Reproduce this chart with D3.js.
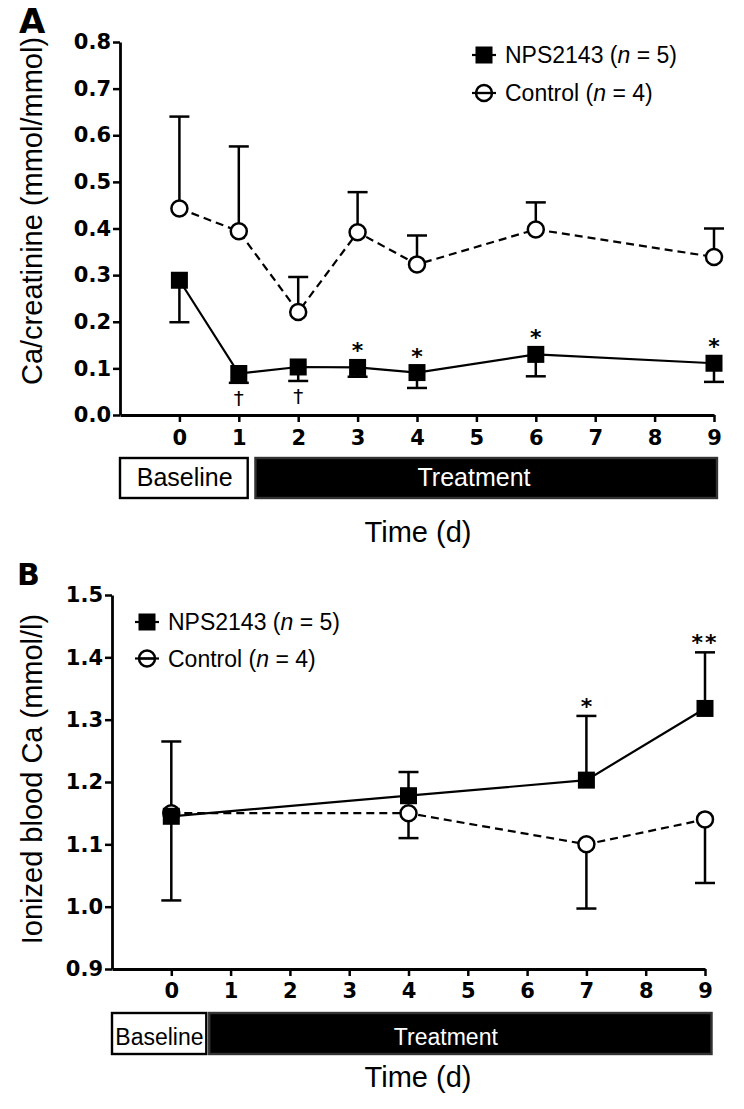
<!DOCTYPE html>
<html>
<head>
<meta charset="utf-8">
<script src="https://cdn.jsdelivr.net/npm/d3@7"></script>
<style>
  body { margin: 0; background: #fff; }
  svg { display: block; }
  .tick text { font-family: "DejaVu Sans", Verdana, sans-serif; font-weight: bold; }
  .txt { font-family: "Liberation Sans", Arial, Helvetica, sans-serif; }
</style>
</head>
<body>
<script>
// series
const seriesNames = ['NPS2143', 'Control'];
const seriesN = [5, 4];

// panel A: urinary Ca/creatinine
const ratioDays = [0, 1, 2, 3, 4, 6, 9];
const npsRatio = [0.289, 0.089, 0.103, 0.102, 0.091, 0.130, 0.111];
const npsRatioErr = [0.090, 0.020, 0.030, 0.020, 0.033, 0.047, 0.040];
const ctrlRatio = [0.443, 0.394, 0.221, 0.392, 0.323, 0.398, 0.339];
const ctrlRatioErr = [0.197, 0.182, 0.075, 0.086, 0.062, 0.058, 0.061];
const ratioMarks = ['', '†', '†', '*', '*', '*', '*'];
const ratioTicks = [0, 0.1, 0.2, 0.3, 0.4, 0.5, 0.6, 0.7, 0.8];

// panel B: ionized blood Ca
const bloodDays = [0, 4, 7, 9];
const npsBlood = [1.145, 1.178, 1.203, 1.318];
const npsBloodErr = [0.120, 0.038, 0.103, 0.090];
const ctrlBlood = [1.150, 1.150, 1.100, 1.140];
const ctrlBloodErr = [0.140, 0.040, 0.103, 0.102];
const bloodMarks = ['', '', '*', '**'];
const bloodTicks = [0.9, 1.0, 1.1, 1.2, 1.3, 1.4, 1.5];

const dayTicks = [0, 1, 2, 3, 4, 5, 6, 7, 8, 9];
const phases = ['Baseline', 'Treatment'];

const svg = d3.select('body').append('svg')
  .attr('width', 744).attr('height', 1109);

function drawPanel(p) {
  const x = d3.scaleLinear().domain([-1, 9]).range(p.xRange);
  const y = d3.scaleLinear().domain(p.yDomain).range(p.yRange);
  const g = svg.append('g');

  // panel letter
  g.append('text')
    .attr('x', p.letterPos[0]).attr('y', p.letterPos[1])
    .style('font-family', '"DejaVu Sans", Arial, sans-serif')
    .style('font-weight', 'bold')
    .style('font-size', p.letterSize + 'px')
    .text(p.letter);

  // axes
  const yAxis = g.append('g')
    .attr('transform', `translate(${p.xRange[0]},0)`)
    .call(d3.axisLeft(y).tickValues(p.yTicks).tickSize(7).tickSizeOuter(0)
      .tickPadding(2).tickFormat(d3.format('.1f')));
  const xAxis = g.append('g')
    .attr('transform', `translate(0,${p.yRange[0]})`)
    .call(d3.axisBottom(x).tickValues(dayTicks).tickSize(7).tickSizeOuter(0)
      .tickPadding(p.xPad));
  [yAxis, xAxis].forEach(a => {
    a.attr('font-size', null);
    a.select('.domain').attr('stroke', '#000').attr('stroke-width', 2.8);
    a.selectAll('.tick line').attr('stroke', '#000').attr('stroke-width', 2.5);
    a.selectAll('.tick text').style('font-size', p.tickSize + 'px').attr('fill', '#000');
  });

  // axis titles
  g.append('text').attr('class', 'txt')
    .attr('transform', `translate(${p.yTitlePos[0]},${p.yTitlePos[1]}) rotate(-90)`)
    .attr('text-anchor', 'middle')
    .style('font-size', '29px')
    .text(p.yTitle);
  g.append('text').attr('class', 'txt')
    .attr('x', 418).attr('y', p.xTitleY)
    .attr('text-anchor', 'middle')
    .style('font-size', '29px')
    .text('Time (d)');

  // phase boxes
  const [by0, by1] = p.boxY;
  p.boxes.forEach((b, i) => {
    g.append('rect')
      .attr('x', x(b[0])).attr('y', by0)
      .attr('width', x(b[1]) - x(b[0])).attr('height', by1 - by0)
      .attr('fill', i === 0 ? '#fff' : '#000')
      .attr('stroke', i === 0 ? '#000' : '#333')
      .attr('stroke-width', 2.4);
    g.append('text').attr('class', 'txt')
      .attr('x', x(p.boxLabelX[i])).attr('y', p.boxTextY)
      .attr('text-anchor', 'middle')
      .style('font-size', p.boxFont + 'px')
      .attr('fill', i === 0 ? '#000' : '#fff')
      .text(phases[i]);
  });

  const series = p.series.map(s => s.days.map((d, i) => ({
    day: d, v: s.values[i], e: s.err[i], dir: s.dir, mark: s.marks ? s.marks[i] : ''
  })));

  // error bars
  series.forEach(pts => {
    pts.forEach(d => {
      const end = y(d.v + d.dir * d.e);
      g.append('line')
        .attr('x1', x(d.day)).attr('x2', x(d.day))
        .attr('y1', y(d.v)).attr('y2', end)
        .attr('stroke', '#000').attr('stroke-width', 2.5);
      g.append('line')
        .attr('x1', x(d.day) - 10).attr('x2', x(d.day) + 10)
        .attr('y1', end).attr('y2', end)
        .attr('stroke', '#000').attr('stroke-width', 2.5);
    });
  });

  // connecting lines
  const line = d3.line().x(d => x(d.day)).y(d => y(d.v));
  series.forEach((pts, i) => {
    g.append('path').datum(pts)
      .attr('d', line)
      .attr('fill', 'none').attr('stroke', '#000').attr('stroke-width', 2.2)
      .attr('stroke-dasharray', i === 1 ? '8,5' : null);
  });

  // markers: control circles under NPS squares
  g.selectAll('.ctrl').data(series[1]).enter().append('circle')
    .attr('cx', d => x(d.day)).attr('cy', d => y(d.v)).attr('r', 8)
    .attr('fill', '#fff').attr('stroke', '#000').attr('stroke-width', 2.5);
  g.selectAll('.nps').data(series[0]).enter().append('rect')
    .attr('x', d => x(d.day) - 8.5).attr('y', d => y(d.v) - 8.5)
    .attr('width', 17).attr('height', 17).attr('fill', '#000');

  // significance marks
  series[0].filter(d => d.mark).forEach(d => {
    if (d.mark === '†') {
      const c = y(d.v - d.e) + 15;
      g.append('text')
        .attr('x', x(d.day)).attr('y', c + 7)
        .attr('text-anchor', 'middle')
        .style('font-family', '"DejaVu Sans", sans-serif')
        .style('font-size', '20px').attr('fill', '#000')
        .text(d.mark);
    } else {
      const top = Math.min(y(d.v), y(d.v + d.dir * d.e));
      const c = top - p.markOffset;
      g.append('text')
        .attr('x', x(d.day)).attr('y', c + 12)
        .attr('text-anchor', 'middle')
        .style('font-family', '"DejaVu Sans", Arial, sans-serif')
        .style('font-weight', 'bold').style('font-size', '22px')
        .style('letter-spacing', d.mark.length > 1 ? '2px' : null)
        .text(d.mark);
    }
  });

  // legend
  seriesNames.forEach((name, i) => {
    const ly = p.legend.y + i * p.legend.dy;
    const lx = p.legend.x;
    g.append('line')
      .attr('x1', lx - 12).attr('x2', lx + 12).attr('y1', ly).attr('y2', ly)
      .attr('stroke', '#000').attr('stroke-width', 2.2);
    if (i === 0) {
      g.append('rect').attr('x', lx - 8.5).attr('y', ly - 8.5)
        .attr('width', 17).attr('height', 17).attr('fill', '#000');
    } else {
      g.append('circle').attr('cx', lx).attr('cy', ly).attr('r', 8)
        .attr('fill', 'none').attr('stroke', '#000').attr('stroke-width', 2.5);
      g.append('line')
        .attr('x1', lx - 8).attr('x2', lx + 8).attr('y1', ly).attr('y2', ly)
        .attr('stroke', '#000').attr('stroke-width', 2.2);
    }
    const t = g.append('text').attr('class', 'txt')
      .attr('x', lx + 21).attr('y', ly + 8)
      .style('font-size', '23px');
    t.append('tspan').text(name + ' (');
    t.append('tspan').style('font-style', 'italic').text('n');
    t.append('tspan').text(' = ' + seriesN[i] + ')');
  });
}

drawPanel({
  letter: 'A', letterPos: [19, 33], letterSize: 34,
  xRange: [120, 714], yDomain: [0, 0.8], yRange: [415, 42],
  yTicks: ratioTicks, tickSize: 21, xPad: 8,
  yTitle: 'Ca/creatinine (mmol/mmol)', yTitlePos: [42, 211],
  xTitleY: 542,
  boxY: [458, 498], boxes: [[-1, 1.15], [1.28, 9.05]], boxLabelX: [0.09, 4.96],
  boxTextY: 486, boxFont: 25,
  markOffset: 21,
  legend: { x: 484, y: 55, dy: 38 },
  series: [
    { days: ratioDays, values: npsRatio, err: npsRatioErr, dir: -1, marks: ratioMarks },
    { days: ratioDays, values: ctrlRatio, err: ctrlRatioErr, dir: 1 }
  ]
});

drawPanel({
  letter: 'B', letterPos: [17, 585], letterSize: 30,
  xRange: [112, 705], yDomain: [0.9, 1.5], yRange: [969, 595],
  yTicks: bloodTicks, tickSize: 21, xPad: 7,
  yTitle: 'Ionized blood Ca (mmol/l)', yTitlePos: [42, 779],
  xTitleY: 1087,
  boxY: [1013, 1054], boxes: [[-1, 0.59], [0.64, 9.11]], boxLabelX: [-0.2, 4.63],
  boxTextY: 1045, boxFont: 23,
  markOffset: 14,
  legend: { x: 147, y: 622, dy: 36.5 },
  series: [
    { days: bloodDays, values: npsBlood, err: npsBloodErr, dir: 1, marks: bloodMarks },
    { days: bloodDays, values: ctrlBlood, err: ctrlBloodErr, dir: -1 }
  ]
});
</script>
</body>
</html>
